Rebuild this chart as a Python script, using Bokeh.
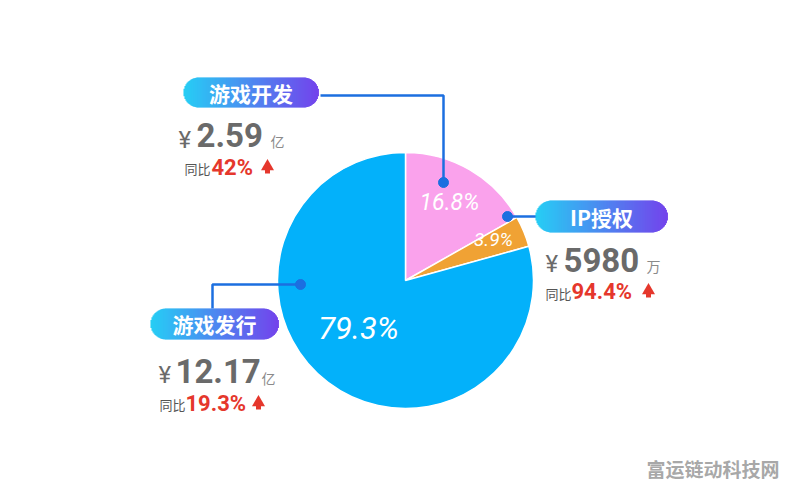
import math
from bokeh.plotting import figure
from bokeh.models import Range1d, ColumnDataSource
from bokeh.core.properties import value
from bokeh.embed import file_html
from bokeh.resources import INLINE

# ---- data ----
categories = ["游戏开发", "IP授权", "游戏发行"]
shares = [16.8, 3.9, 79.3]
share_labels = ["16.8%", "3.9%", "79.3%"]
amounts = ["2.59", "5980", "12.17"]
units = ["亿", "万", "亿"]
growth_labels = ["42%", "94.4%", "19.3%"]
slice_colors = ["#FAA2EC", "#F0A234", "#03B1FA"]

W, H = 780, 482
p = figure(width=W, height=H, output_backend="svg", toolbar_location=None,
           x_range=Range1d(0, 780), y_range=Range1d(16, 498), min_border=0)
p.axis.visible = False
p.grid.visible = False
p.outline_line_color = None
p.background_fill_color = "#FFFFFF"
p.border_fill_color = "#FFFFFF"

def Y(py):
    return 498 - py

CJK = value("Noto Sans CJK SC")
NUM = value("Roboto")

# ---- pie ----
cx, cy, r = 405, 280, 128
total = sum(shares)
starts, ends = [], []
acc = 0.0
for s in shares:
    starts.append(math.pi / 2 - acc / total * 2 * math.pi)
    acc += s
    ends.append(math.pi / 2 - acc / total * 2 * math.pi)
src = ColumnDataSource(dict(start=starts, end=ends, color=slice_colors))
p.wedge(x=cx, y=Y(cy), radius=r, start_angle="start", end_angle="end",
        direction="clock", fill_color="color", line_color="white",
        line_width=1.5, source=src)

# percent labels inside slices
pct_pos = [(449, 202, 23), (493, 239, 19), (358, 328, 31)]
for lab, (x, y, fs) in zip(share_labels, pct_pos):
    p.text(x=[x], y=[Y(y)], text=[lab], text_color="white", text_align="center",
           text_baseline="middle", text_font=NUM, text_font_size=f"{fs}px",
           text_font_style="italic")

# ---- leader lines ----
LC = "#1C6FE0"
p.line(x=[443, 443, 320], y=[Y(182), Y(95), Y(95)], line_color=LC, line_width=2.5)
p.line(x=[507, 536], y=[Y(216), Y(216)], line_color=LC, line_width=2.5)
p.line(x=[300, 212, 212], y=[Y(284), Y(284), Y(308)], line_color=LC, line_width=2.5)
p.scatter(x=[443, 507, 300], y=[Y(182), Y(216), Y(284)], size=10,
          fill_color=LC, line_color=LC)

# ---- gradient pills ----
C0 = (27, 203, 244)
C1 = (108, 58, 235)

def pill(x0, x1, y0, y1, label):
    rr = (y1 - y0) / 2.0
    ym = (y0 + y1) / 2.0
    n = int(round(x1 - x0))
    L, R, T, B, C = [], [], [], [], []
    for i in range(n):
        xc = x0 + i + 0.5
        if xc < x0 + rr:
            dx = x0 + rr - xc
            hh = math.sqrt(max(rr * rr - dx * dx, 0))
        elif xc > x1 - rr:
            dx = xc - (x1 - rr)
            hh = math.sqrt(max(rr * rr - dx * dx, 0))
        else:
            hh = rr
        t = i / max(n - 1, 1)
        col = tuple(int(round(C0[k] + (C1[k] - C0[k]) * t)) for k in range(3))
        L.append(x0 + i); R.append(x0 + i + 1.4)
        T.append(Y(ym - hh)); B.append(Y(ym + hh))
        C.append("#%02x%02x%02x" % col)
    p.quad(left=L, right=R, top=T, bottom=B, fill_color=C, line_color=None)
    p.text(x=[(x0 + x1) / 2], y=[Y(ym)], text=[label], text_color="white",
           text_align="center", text_baseline="middle", text_font=CJK,
           text_font_size="21px", text_font_style="bold")

pill(183, 318, 77, 107, categories[0])
pill(535, 667, 200, 232, categories[1])
pill(150, 278, 308, 339, categories[2])

# ---- amount + growth blocks ----
GRAY = "#6A6A6A"
RED = "#E5372C"

def block(yen, amt, unit_xy, tb, gr, arrow, amount, unit, growth):
    p.text(x=[yen[0]], y=[Y(yen[1])], text=["¥"], text_color=GRAY, text_align="left",
           text_baseline="middle", text_font=NUM, text_font_size="24px")
    p.text(x=[amt[0]], y=[Y(amt[1])], text=[amount], text_color=GRAY, text_align="left",
           text_baseline="middle", text_font=NUM, text_font_size="33px",
           text_font_style="bold")
    p.text(x=[unit_xy[0]], y=[Y(unit_xy[1])], text=[unit], text_color="#8A8A8A",
           text_align="left", text_baseline="middle", text_font=CJK,
           text_font_size="14px")
    p.text(x=[tb[0]], y=[Y(tb[1])], text=["同比"], text_color="#555555",
           text_align="left", text_baseline="middle", text_font=CJK,
           text_font_size="13px")
    p.text(x=[gr[0]], y=[Y(gr[1])], text=[growth], text_color=RED, text_align="left",
           text_baseline="middle", text_font=NUM, text_font_size="22px",
           text_font_style="bold")
    ax, ay = arrow
    p.scatter(x=[ax], y=[Y(ay - 2)], marker="triangle", size=13,
              fill_color=RED, line_color=None)
    p.quad(left=[ax - 2.5], right=[ax + 2.5], top=[Y(ay - 1)],
           bottom=[Y(ay + 5)], fill_color=RED, line_color=None)

block((178, 139), (196, 134), (270, 140), (184, 168), (211, 167), (267, 168),
      amounts[0], units[0], growth_labels[0])
block((545, 263), (563, 259), (646, 265), (545, 293), (571, 291), (648, 292),
      amounts[1], units[1], growth_labels[1])
block((158, 374), (175, 370), (261, 377), (159, 404), (185, 403), (258, 404),
      amounts[2], units[2], growth_labels[2])

# watermark
p.text(x=[779], y=[Y(468)], text=["富运链动科技网"], text_color="#A8A8A8",
       text_align="right", text_baseline="middle", text_font=CJK,
       text_font_size="19px", text_font_style="bold")

open("out.html", "w").write(file_html(p, INLINE))
